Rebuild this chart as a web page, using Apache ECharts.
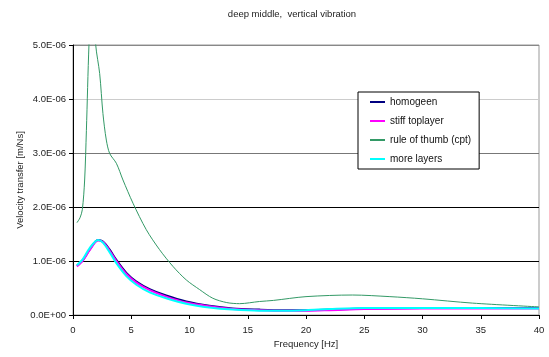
<!DOCTYPE html>
<html>
<head>
<meta charset="utf-8">
<script src="https://cdn.jsdelivr.net/npm/echarts@6/dist/echarts.min.js"></script>
<style>
html,body{margin:0;padding:0;background:#fff;}
#c{width:549px;height:357px;}
</style>
</head>
<body>
<div id="c"></div>
<script>
// values in units of 1E-06 m/Ns
var titleText = "deep middle,  vertical vibration";
var seriesNames = ["homogeen", "stiff toplayer", "rule of thumb (cpt)", "more layers"];

var freqThumb = [0.34, 0.6, 0.8, 1.0, 1.15, 1.37, 1.65, 1.95, 2.29, 2.57, 2.86, 3.15, 3.72, 4.29, 5.15, 6.29, 7.43, 8.58, 9.72, 10.87, 12.0, 13.2, 14.3, 16.0, 17.2, 20.0, 24.0, 27.2, 30.0, 34.3, 40.0];
var valThumb  = [1.71, 1.80, 1.95, 2.5, 3.42, 5.0, 6.2, 5.0, 4.47, 3.73, 3.24, 2.99, 2.81, 2.5, 2.07, 1.58, 1.21, 0.90, 0.65, 0.47, 0.31, 0.23, 0.21, 0.25, 0.27, 0.34, 0.37, 0.34, 0.30, 0.22, 0.15];

var freqLayer = [0.34, 0.86, 1.43, 2.14, 2.57, 3.15, 3.72, 4.58, 5.44, 6.58, 8.0, 9.72, 11.7, 13.7, 16, 18, 20, 22, 25, 30, 35, 40];
var valHomogeen = [0.91, 1.02, 1.21, 1.39, 1.36, 1.21, 1.02, 0.78, 0.62, 0.48, 0.36, 0.25, 0.17, 0.12, 0.10, 0.09, 0.09, 0.10, 0.12, 0.13, 0.13, 0.13];
var valStiff    = [0.90, 1.01, 1.20, 1.38, 1.35, 1.19, 1.00, 0.76, 0.60, 0.46, 0.34, 0.23, 0.16, 0.11, 0.09, 0.08, 0.08, 0.09, 0.11, 0.12, 0.12, 0.12];
var valMore     = [0.92, 1.04, 1.24, 1.39, 1.34, 1.16, 0.96, 0.72, 0.56, 0.42, 0.31, 0.21, 0.14, 0.10, 0.08, 0.08, 0.09, 0.11, 0.13, 0.13, 0.13, 0.12];

function pairs(xs, ys){ return xs.map(function(x,i){ return [x, ys[i]]; }); }
function fmtExp(v){
  if (v === 0) return "0.0E+00";
  var s = (v*1e-6).toExponential(1).toUpperCase();
  var m = s.match(/^(-?[\d.]+)E([+-])(\d+)$/);
  var e = m[3].length < 2 ? "0"+m[3] : m[3];
  return m[1] + "E" + m[2] + e;
}

var font = "Liberation Sans, Arial, sans-serif";
var chart = echarts.init(document.getElementById('c'), null, {renderer:'canvas'});
chart.setOption({
  animation:false,
  backgroundColor:'#fff',
  title:{text:titleText, left:287, textAlign:'center', top:4,
    textStyle:{fontFamily:font, fontSize:9.5, fontWeight:'normal', color:'#222'}},
  grid:{left:73, right:10, top:45, bottom:42, show:true, borderColor:'#999', borderWidth:1, backgroundColor:'transparent'},
  legend:{
    orient:'vertical', left:358, top:92,
    backgroundColor:'#fff', borderColor:'#000', borderWidth:1,
    padding:[5,8,5,12], itemGap:9, itemWidth:15, itemHeight:2, icon:'rect',
    textStyle:{fontFamily:font, fontSize:10, color:'#111'},
    data:seriesNames
  },
  xAxis:{type:'value', min:0, max:40, interval:5,
    name:'Frequency [Hz]', nameLocation:'middle', nameGap:24, nameMoveOverlap:false,
    nameTextStyle:{fontFamily:font, fontSize:9.5, color:'#222'},
    axisLine:{show:true, lineStyle:{color:'#000', width:1}},
    axisTick:{show:true, inside:false, length:4, lineStyle:{color:'#000'}},
    axisLabel:{fontFamily:font, fontSize:9.5, color:'#222', margin:10},
    splitLine:{show:false}},
  yAxis:{type:'value', min:0, max:5, interval:1,
    name:'Velocity transfer [m/Ns]', nameLocation:'middle', nameGap:53, nameMoveOverlap:false,
    nameTextStyle:{fontFamily:font, fontSize:9.5, color:'#222', verticalAlign:'middle'},
    axisLine:{show:true, lineStyle:{color:'#000', width:1}},
    axisTick:{show:true, inside:false, length:4, lineStyle:{color:'#000'}},
    axisLabel:{fontFamily:font, fontSize:9.5, color:'#222', margin:7, formatter:fmtExp},
    splitLine:{show:true, lineStyle:{color:['#000','#000','#000','#777','#ccc','#888'], width:1}}},
  series:[
    {name:seriesNames[0], type:'line', data:pairs(freqLayer, valHomogeen), smooth:0.3, symbol:'none',
      lineStyle:{color:'#000080', width:2}, itemStyle:{color:'#000080'}},
    {name:seriesNames[1], type:'line', data:pairs(freqLayer, valStiff), smooth:0.3, symbol:'none',
      lineStyle:{color:'#ff00ff', width:2}, itemStyle:{color:'#ff00ff'}},
    {name:seriesNames[2], type:'line', data:pairs(freqThumb, valThumb), smooth:0.3, symbol:'none',
      lineStyle:{color:'#339966', width:1}, itemStyle:{color:'#339966'}},
    {name:seriesNames[3], type:'line', data:pairs(freqLayer, valMore), smooth:0.3, symbol:'none',
      lineStyle:{color:'#00ffff', width:2}, itemStyle:{color:'#00ffff'}}
  ]
});
</script>
</body>
</html>
